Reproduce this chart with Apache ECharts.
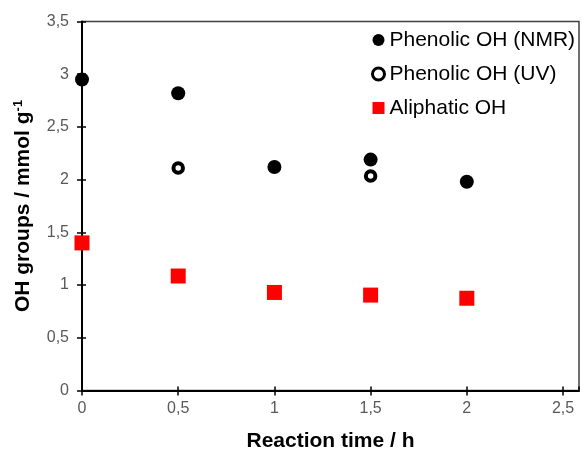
<!DOCTYPE html>
<html>
<head>
<meta charset="utf-8">
<script src="https://cdn.jsdelivr.net/npm/echarts@6/dist/echarts.min.js"></script>
<style>
html,body{margin:0;padding:0;background:#fff;}
#chart{width:582px;height:452px;}
</style>
</head>
<body>
<div id="chart"></div>
<script>
var times = [0, 0.5, 1, 1.5, 2];
var nmr = [2.95, 2.82, 2.12, 2.19, 1.98];
var uvTimes = [0.5, 1.5];
var uv = [2.11, 2.035];
var aliphatic = [1.40, 1.086, 0.93, 0.905, 0.875];
var names = ['Phenolic OH (NMR)', 'Phenolic OH (UV)', 'Aliphatic OH'];

function pairs(xs, ys){
	var out = [];
	for (var i = 0; i < xs.length; i++) out.push([xs[i], ys[i]]);
	return out;
}
function fmt(v){ return String(v).replace('.', ','); }

var font = 'Liberation Sans, Arial, sans-serif';
var chart = echarts.init(document.getElementById('chart'));

var option = {
	animation: false,
	textStyle: {fontFamily: font},
	grid: {left: 82, top: 21.5, right: 3, bottom: 61.5, outerBoundsMode: 'none', containLabel: false,
		show: true, borderColor: '#404040', borderWidth: 1.5},
	legend: {
		orient: 'vertical', left: 366, top: 24, itemGap: 12,
		itemWidth: 12, itemHeight: 12,
		textStyle: {fontSize: 21, lineHeight: 22, color: '#000', fontFamily: font},
		data: [
			{name: names[0], itemStyle: {color: '#000'}},
			{name: names[1], itemStyle: {color: '#fff', borderColor: '#000', borderWidth: 3}},
			{name: names[2], itemStyle: {color: '#f00'}}
		]
	},
	xAxis: [{
		type: 'value', min: 0, max: 2.583, interval: 0.5,
		name: 'Reaction time / h', nameLocation: 'middle', nameGap: 40,
		nameTextStyle: {fontSize: 21, fontWeight: 'bold', color: '#000', fontFamily: font},
		axisLine: {lineStyle: {color: '#000', width: 2}},
		axisTick: {length: 5, lineStyle: {color: '#000', width: 1.5}},
		axisLabel: {showMaxLabel: false, fontSize: 16, color: '#595959', margin: 10, formatter: fmt},
		splitLine: {show: false}
	}, {
		type: 'value', min: 0, max: 2.583, interval: 0.5, position: 'bottom',
		axisLine: {show: false},
		axisTick: {inside: true, length: 4, lineStyle: {color: '#000', width: 1.5}},
		axisLabel: {show: false}, splitLine: {show: false}
	}],
	yAxis: [{
		type: 'value', min: 0, max: 3.5, interval: 0.5,
		name: 'OH groups / mmol g{sup|-1}', nameLocation: 'middle', nameGap: 47,
		nameTextStyle: {fontSize: 21, fontWeight: 'bold', color: '#000', fontFamily: font,
			rich: {sup: {fontSize: 13, fontWeight: 'bold', color: '#000', fontFamily: font, verticalAlign: 'top', padding: [0, 0, 10, 0]}}},
		axisLine: {lineStyle: {color: '#000', width: 2}},
		axisTick: {length: 5, lineStyle: {color: '#000', width: 1.5}},
		axisLabel: {fontSize: 16, color: '#595959', margin: 13, formatter: fmt},
		splitLine: {show: false}
	}, {
		type: 'value', min: 0, max: 3.5, interval: 0.5, position: 'left',
		axisLine: {show: false},
		axisTick: {inside: true, length: 4, lineStyle: {color: '#000', width: 1.5}},
		axisLabel: {show: false}, splitLine: {show: false}
	}],
	series: [{
		name: names[0], type: 'scatter', symbol: 'circle', symbolSize: 14,
		itemStyle: {color: '#000', opacity: 1},
		data: pairs(times, nmr)
	}, {
		name: names[1], type: 'scatter', symbol: 'circle', symbolSize: 9.5,
		itemStyle: {color: '#fff', borderColor: '#000', borderWidth: 4, opacity: 1},
		data: pairs(uvTimes, uv)
	}, {
		name: names[2], type: 'scatter', symbol: 'rect', symbolSize: 15,
		itemStyle: {color: '#f00', opacity: 1},
		data: pairs(times, aliphatic)
	}]
};
chart.setOption(option);
</script>
</body>
</html>
